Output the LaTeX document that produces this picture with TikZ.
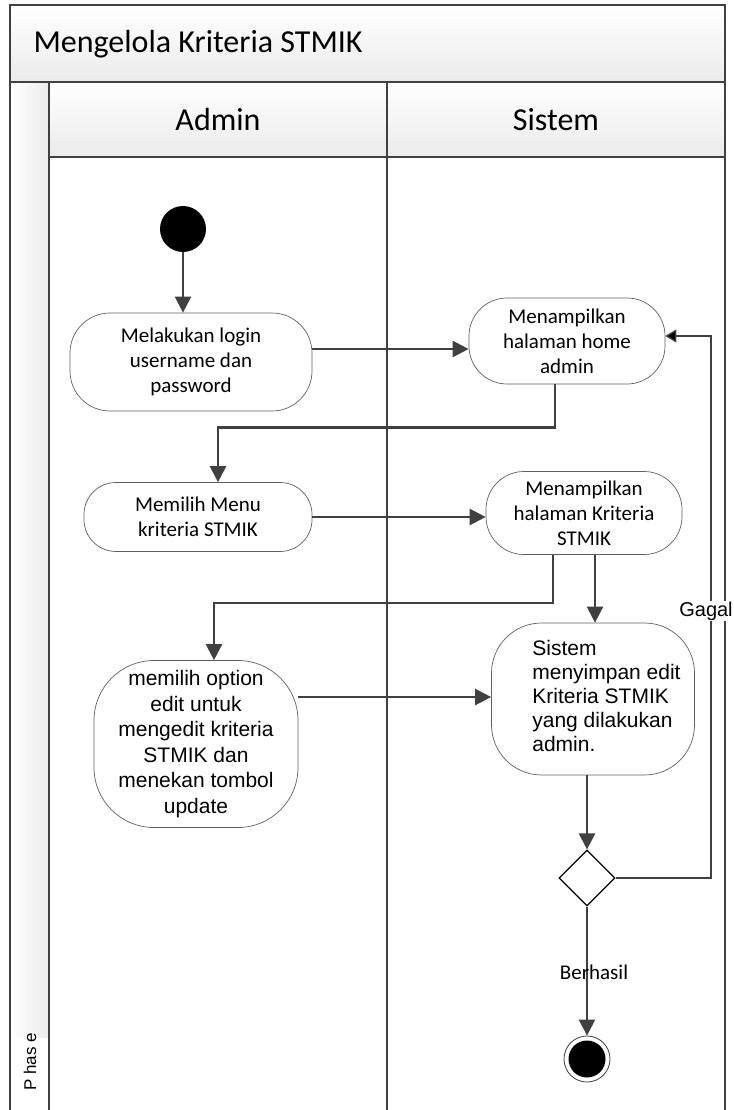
\documentclass[tikz,border=0pt]{standalone}
\usepackage{fontspec}
\setmainfont{Carlito}
\newfontfamily\arialfont{Liberation Sans}
\usetikzlibrary{arrows.meta,positioning,calc,shapes.geometric}
\definecolor{linegray}{HTML}{404040}
\definecolor{bandgray}{HTML}{EBEBEB}
\tikzset{
  frame/.style={draw=linegray,line width=1.8pt},
  act/.style={draw=gray!75!black,line width=0.7pt,fill=white,rounded corners=#1,
    align=center,inner sep=0pt,font=\fontsize{21}{25}\selectfont},
  actarial/.style={act=#1,font=\arialfont\fontsize{21}{25.5}\selectfont},
  flow/.style={draw=linegray,line width=2.4pt,-{Triangle[length=16pt,width=16pt]}},
  back/.style={draw=linegray,line width=1.3pt,-{Triangle[length=11pt,width=13pt,fill=black]}},
  startnode/.style={circle,fill=black,minimum size=46pt,inner sep=0pt},
  endnode/.style={circle,draw=linegray,line width=0.8pt,fill=white,minimum size=46pt,inner sep=0pt,
    path picture={\fill[black] (path picture bounding box.center) circle (18.5pt);}},
  decision/.style={diamond,draw=black,line width=1.2pt,fill=white,minimum size=56pt,inner sep=0pt}
}
\begin{document}
\begin{tikzpicture}[x=1pt,y=-1pt,>=Latex]
\useasboundingbox (0,0) rectangle (733,1110);
% bands
\shade[top color=white,bottom color=bandgray] (10,5) rectangle (725,82);
\shade[top color=white,bottom color=bandgray] (49,82) rectangle (725,157);
\shade[left color=white,right color=bandgray] (10,82) rectangle (49,1037);
% frame and lanes
\draw[frame] (10,1110) -- (10,5) -- (725,5) -- (725,1110);
\draw[frame] (10,82) -- (725,82);
\draw[frame] (49,157) -- (725,157);
\draw[frame] (49,82) -- (49,1110);
\draw[frame] (387,82) -- (387,1110);
% titles
\node[anchor=west,font=\fontsize{32}{38}\selectfont] (title) at (30,44) {Mengelola Kriteria STMIK};
\node[font=\fontsize{32}{38}\selectfont] (admin) at (218,120) {Admin};
\node[font=\fontsize{32}{38}\selectfont] (sistem) at (556,120) {Sistem};
\node[rotate=90,font=\arialfont\fontsize{17}{20}\selectfont] (phase) at (30,1062) {P has e};
% activities
\node[startnode] (start) at (183,229) {};
\node[act=40pt,minimum width=242pt,minimum height=98pt] (login) at (191,362) {Melakukan login\\username dan\\password};
\node[act=38pt,minimum width=196pt,minimum height=86pt] (home) at (567,341) {Menampilkan\\halaman home\\admin};
\node[act=32pt,minimum width=228pt,minimum height=69pt] (menu) at (198,517) {Memilih Menu\\kriteria STMIK};
\node[act=38pt,minimum width=196pt,minimum height=83pt] (krit) at (584,513) {Menampilkan\\halaman Kriteria\\STMIK};
\node[actarial=60pt,minimum width=204pt,minimum height=167pt] (option) at (196,744) {memilih option\\edit untuk\\mengedit kriteria\\STMIK dan\\menekan tombol\\update};
\node[actarial=50pt,minimum width=203pt,minimum height=152pt,font=\arialfont\fontsize{21}{24}\selectfont] (simpan) at (593,699)
  {\hspace*{27pt}\begin{tabular}{@{}l@{}}Sistem\\menyimpan edit\\Kriteria STMIK\\yang dilakukan\\admin.\end{tabular}};
\node[decision] (dec) at (587,878) {};
\node[endnode] (fin) at (587,1059) {};
% flows
\draw[flow] (start) -- (start |- login.north);
\draw[flow] (login.east |- 0,349) -- (home.west |- 0,349);
\draw[flow] ([xshift=-12pt]home.south) -- ++(0,43) -| ([xshift=20pt]menu.north);
\draw[flow] (menu.east) -- (menu.east -| krit.west);
\draw[flow] ([xshift=-31pt]krit.south) -- ++(0,48) -| ([xshift=18pt]option.north);
\draw[flow] ([xshift=11pt]krit.south) -- ([xshift=11pt]krit.south |- simpan.north);
\draw[flow] (option.east |- 0,697) -- (simpan.west |- 0,697);
\draw[flow] (dec.north |- simpan.south) -- (dec.north);
\draw[flow] (dec.south) -- (fin);
% guard back to home
\coordinate (gx) at (711,0);
\draw[back] (dec.east) -- (dec.east -| gx) -- (gx |- 0,336) -- ([yshift=5pt]home.east);
\node[fill=white,inner sep=1pt,font=\arialfont\fontsize{20}{24}\selectfont] (gagal) at (706,611) {Gagal};
\node[font=\fontsize{21}{25}\selectfont] (berhasil) at (594,972) {Berhasil};
\end{tikzpicture}
\end{document}
